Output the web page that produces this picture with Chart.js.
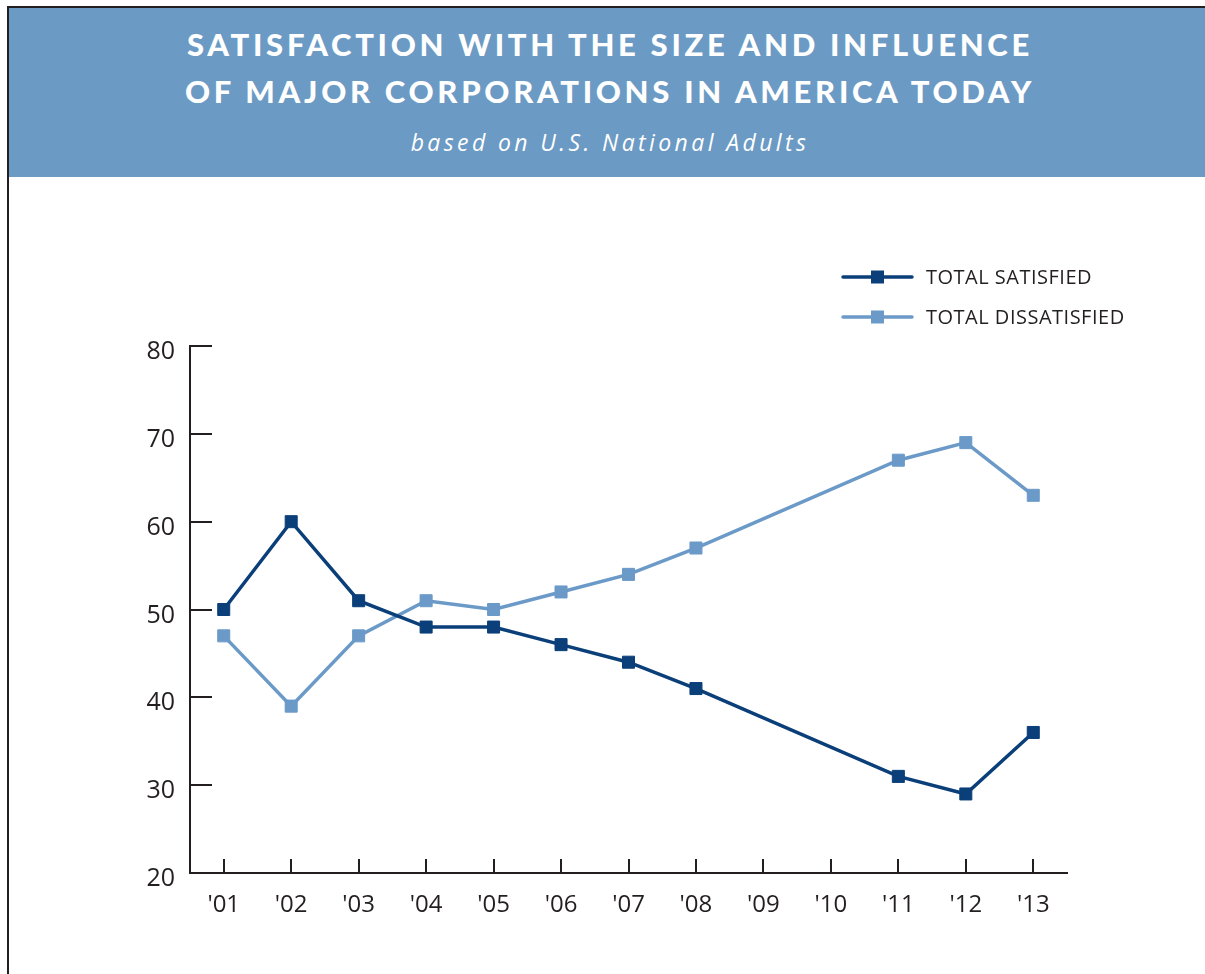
<!DOCTYPE html>
<html>
<head>
<meta charset="utf-8">
<script src="https://cdn.jsdelivr.net/npm/chart.js@4.4.1/dist/chart.umd.min.js"></script>
<style>
  html, body { margin: 0; padding: 0; background: #fff; }
  body { width: 1205px; height: 974px; position: relative; overflow: hidden; }
  #frameTop { position: absolute; left: 7px; top: 6px; width: 1198px; height: 2px; background: #231f20; }
  #frameLeft { position: absolute; left: 7px; top: 6px; width: 2px; height: 968px; background: #231f20; }
  #band { position: absolute; left: 9px; top: 8px; width: 1196px; height: 169px; background: #6b9ac4; }
  .hd { position: absolute; left: 9px; width: 1202px; text-align: center; color: #fff; white-space: nowrap; }
  .t1 { font-family: "Lato", "Open Sans", sans-serif; font-weight: 900; font-size: 31px; letter-spacing: 3.7px; }
  #l1 { top: 25px; }
  #l2 { top: 72px; }
  #sub { top: 126px; font-family: "Open Sans", sans-serif; font-style: italic; font-size: 23px; letter-spacing: 3.4px; font-weight: 400; }
  #wrap { position: absolute; left: 0; top: 0; width: 1205px; height: 974px; }
</style>
</head>
<body>
<div id="band"></div>
<div id="frameTop"></div>
<div id="frameLeft"></div>
<div class="hd t1" id="l1">SATISFACTION WITH THE SIZE AND INFLUENCE</div>
<div class="hd t1" id="l2">OF MAJOR CORPORATIONS IN AMERICA TODAY</div>
<div class="hd" id="sub">based on U.S. National Adults</div>
<div id="wrap"><canvas id="c" width="1205" height="974"></canvas></div>
<script>
const years = ["'01", "'02", "'03", "'04", "'05", "'06", "'07", "'08", "'09", "'10", "'11", "'12", "'13"];
const totalSatisfied = [50, 60, 51, 48, 48, 46, 44, 41, null, null, 31, 29, 36];
const totalDissatisfied = [47, 39, 47, 51, 50, 52, 54, 57, null, null, 67, 69, 63];
const seriesNames = ["TOTAL SATISFIED", "TOTAL DISSATISFIED"];
const yTicks = [20, 30, 40, 50, 60, 70, 80];

const DARK = '#0b3f7a';
const LIGHT = '#6b9ac8';
const INK = '#231f20';

const innerTicks = {
  id: 'innerTicks',
  beforeDatasetsDraw(chart) {
    const ctx = chart.ctx;
    const area = chart.chartArea;
    const xs = chart.scales.x, ys = chart.scales.y;
    ctx.save();
    ctx.strokeStyle = INK;
    ctx.lineWidth = 2;
    ctx.beginPath();
    yTicks.forEach(v => {
      const y = Math.round(ys.getPixelForValue(v));
      ctx.moveTo(area.left, y);
      ctx.lineTo(area.left + 22, y);
    });
    years.forEach((_, i) => {
      const x = Math.round(xs.getPixelForValue(i));
      ctx.moveTo(x, area.bottom);
      ctx.lineTo(x, area.bottom - 14);
    });
    ctx.stroke();
    ctx.restore();
  }
};

const sideLegend = {
  id: 'sideLegend',
  afterDraw(chart) {
    const ctx = chart.ctx;
    ctx.save();
    chart.data.datasets.forEach((ds, i) => {
      const y = 277 + i * 40;
      ctx.strokeStyle = ds.borderColor;
      ctx.lineWidth = 3.5;
      ctx.lineCap = 'round';
      ctx.beginPath();
      ctx.moveTo(843, y);
      ctx.lineTo(912, y);
      ctx.stroke();
      ctx.fillStyle = ds.borderColor;
      ctx.fillRect(871, y - 6.5, 13, 13);
      ctx.fillStyle = INK;
      ctx.font = '400 20px "Open Sans", sans-serif';
      ctx.letterSpacing = '0.5px';
      ctx.textBaseline = 'middle';
      ctx.textAlign = 'left';
      ctx.fillText(ds.label, 926, y + 1);
    });
    ctx.restore();
  }
};

new Chart(document.getElementById('c'), {
  type: 'line',
  data: {
    labels: years,
    datasets: [
      {
        label: seriesNames[0],
        data: totalSatisfied,
        borderColor: DARK,
        backgroundColor: DARK,
        borderWidth: 3.5,
        pointStyle: 'rect',
        pointRadius: 8.5,
        pointBorderWidth: 1,
        pointHoverRadius: 8.5,
        spanGaps: true,
        tension: 0
      },
      {
        label: seriesNames[1],
        data: totalDissatisfied,
        borderColor: LIGHT,
        backgroundColor: LIGHT,
        borderWidth: 3.5,
        pointStyle: 'rect',
        pointRadius: 8.5,
        pointBorderWidth: 1,
        pointHoverRadius: 8.5,
        spanGaps: true,
        tension: 0
      }
    ]
  },
  options: {
    responsive: false,
    animation: false,
    events: [],
    layout: { padding: { top: 346, right: 138, bottom: 41, left: 0 } },
    plugins: {
      legend: { display: false },
      title: { display: false },
      tooltip: { enabled: false }
    },
    scales: {
      x: {
        type: 'category',
        offset: true,
        grid: { display: true, drawOnChartArea: false, drawTicks: false },
        border: { display: true, color: INK, width: 2 },
        ticks: {
          color: INK,
          padding: 18,
          font: { family: '"Open Sans", sans-serif', size: 24, weight: '400' },
          maxRotation: 0,
          autoSkip: false
        },
        afterFit(s) { s.height = 60; }
      },
      y: {
        min: 20,
        max: 80,
        grid: { display: true, drawOnChartArea: false, drawTicks: false },
        border: { display: true, color: INK, width: 2 },
        ticks: {
          color: INK,
          stepSize: 10,
          padding: 15,
          labelOffset: 6,
          font: { family: '"Open Sans", sans-serif', size: 25, weight: '400' }
        },
        afterFit(s) { s.width = 190; }
      }
    }
  },
  plugins: [innerTicks, sideLegend]
});
</script>
</body>
</html>
